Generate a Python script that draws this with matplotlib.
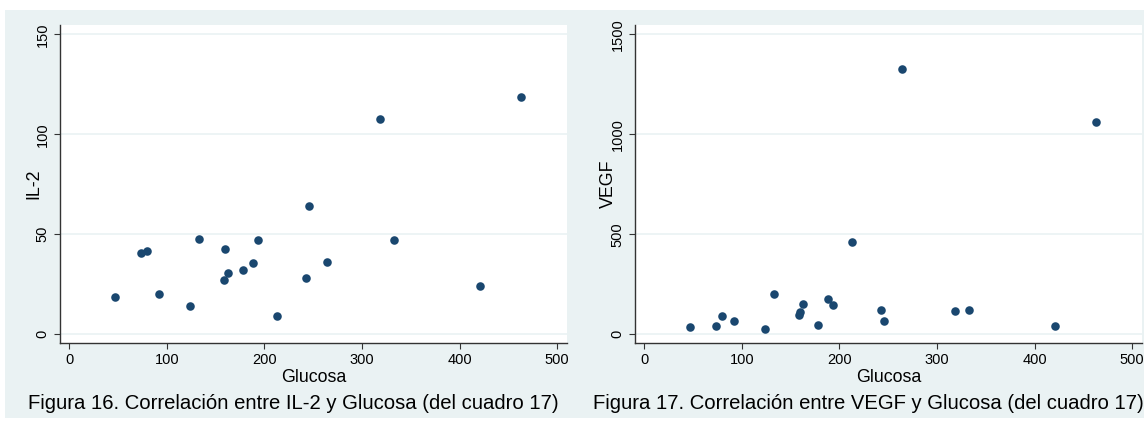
import matplotlib
matplotlib.use("Agg")
import matplotlib.pyplot as plt
from matplotlib.patches import Rectangle

plt.rcParams['font.family'] = ['Liberation Sans', 'DejaVu Sans']

# data
glucosa = [47, 74, 80, 92, 124, 133, 159, 160, 163, 178,
           188, 194, 213, 243, 246, 264, 318, 333, 421, 463]
il2 = [18.5, 40.5, 41.8, 20, 14.2, 47.5, 27.2, 42.7, 30.8, 32,
       35.7, 47.2, 9.3, 28.2, 64, 36.3, 107.5, 47.3, 24.2, 118.7]
vegf = [35, 43, 90, 68, 27, 202, 95, 110, 152, 47,
        178, 145, 463, 120, 67, 1327, 117, 122, 43, 1062]

x_ticks = [0, 100, 200, 300, 400, 500]
il2_ticks = [0, 50, 100, 150]
vegf_ticks = [0, 500, 1000, 1500]
captions = ["Figura 16. Correlación entre IL-2 y Glucosa (del cuadro 17)",
            "Figura 17. Correlación entre VEGF y Glucosa (del cuadro 17)"]

W, H = 1144, 423
bg = '#eaf2f3'
navy = '#1a476f'

fig = plt.figure(figsize=(W / 100, H / 100), dpi=100)
fig.patch.set_facecolor('white')
fig.patches.append(Rectangle((5 / W, 5 / H), 1 - 5 / W, (H - 15) / H,
                             transform=fig.transFigure, facecolor=bg,
                             edgecolor='none', zorder=-10))


def px_box(x0, x1, y0, y1):
    return [x0 / W, (H - y1) / H, (x1 - x0) / W, (y1 - y0) / H]


def draw(ax, y, yticks, ylim, ylabel):
    ax.set_facecolor('white')
    ax.scatter(glucosa, y, s=38, color=navy, zorder=3, linewidths=0)
    ax.set_xlim(-9.3, 510)
    ax.set_ylim(*ylim)
    ax.set_xticks(x_ticks)
    ax.set_yticks(yticks)
    ax.set_yticklabels([str(t) for t in yticks], rotation=90, va='center')
    for t in yticks:
        ax.axhline(t, color=bg, lw=1.2, zorder=1)
    for s in ['top', 'right']:
        ax.spines[s].set_visible(False)
    for s in ['left', 'bottom']:
        ax.spines[s].set_color('#333333')
        ax.spines[s].set_linewidth(1.0)
    ax.tick_params(direction='out', length=4.3, width=0.8, color='#333333',
                   labelsize=10.5, pad=3)
    ax.set_xlabel('Glucosa', fontsize=12.8, labelpad=1)
    ax.set_ylabel(ylabel, fontsize=12.8)
    ax.yaxis.set_label_coords(-0.035, 0.5)


ax1 = fig.add_axes(px_box(60, 567, 25, 343))
draw(ax1, il2, il2_ticks, (-4.35, 154.65), 'IL-2')

ax2 = fig.add_axes(px_box(635, 1142, 25, 343))
draw(ax2, vegf, vegf_ticks, (-43.5, 1546.5), 'VEGF')

fig.text(293 / W, 1 - 403 / H, captions[0], ha='center', va='center', fontsize=14.6)
fig.text(868 / W, 1 - 403 / H, captions[1], ha='center', va='center', fontsize=14.6)

fig.savefig('out.png', dpi=100)
